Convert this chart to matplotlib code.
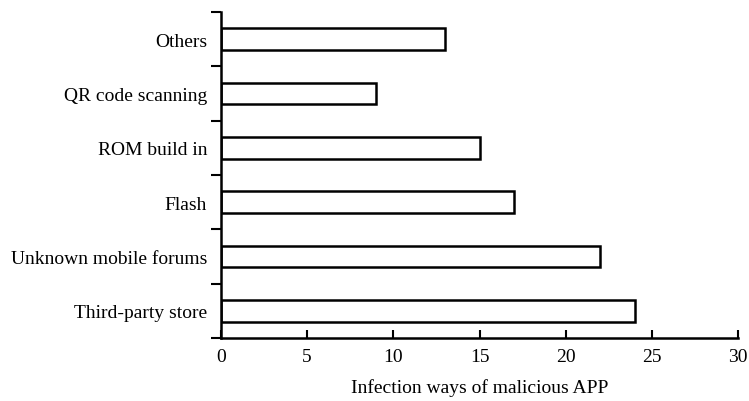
import numpy as np
import matplotlib.pyplot as plt

plt.rcParams['font.family'] = ['Liberation Serif', 'DejaVu Serif']

categories = ["Third-party store", "Unknown mobile forums", "Flash",
              "ROM build in", "QR code scanning", "Others"]
counts = [24, 22, 17, 15, 9, 13]
x_ticks = [0, 5, 10, 15, 20, 25, 30]

fig = plt.figure(figsize=(7.49, 4.02), dpi=100)
ax = fig.add_axes([221/749, 1 - 339/402, (738-221)/749, (339-13)/402])

y = np.arange(len(categories))
ax.barh(y, counts, height=0.4, color='white', edgecolor='black', linewidth=1.8)

ax.set_xlim(0, 30)
ax.set_ylim(-0.5, len(categories) - 0.5)
ax.set_xticks(x_ticks)
ax.set_yticks(np.arange(-0.5, len(categories), 1.0))
ax.set_yticklabels([])
ax.set_yticks(y, minor=True)
ax.set_yticklabels(categories, minor=True)

ax.spines['top'].set_visible(False)
ax.spines['right'].set_visible(False)
ax.spines['left'].set_linewidth(1.8)
ax.spines['bottom'].set_linewidth(1.8)

ax.tick_params(axis='x', direction='in', length=6, width=1.5, labelsize=14, pad=7)
ax.tick_params(axis='y', which='major', direction='out', length=7, width=1.5)
ax.tick_params(axis='y', which='minor', length=0, labelsize=14, pad=10)

ax.set_xlabel("Infection ways of malicious APP", fontsize=14, labelpad=10)

plt.savefig('out.png', dpi=100)
